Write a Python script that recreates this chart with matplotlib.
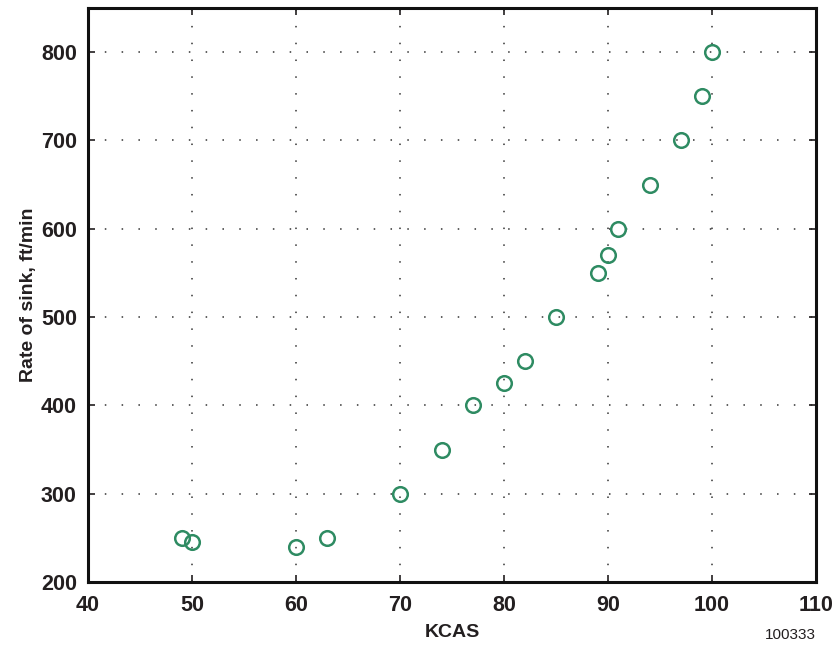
import numpy as np
import matplotlib.pyplot as plt

# airspeed (KCAS) vs rate of sink (ft/min)
kcas = [49, 50, 60, 63, 70, 74, 77, 80, 82, 85, 89, 90, 91, 94, 97, 99, 100]
sink = [250, 245, 240, 250, 300, 350, 400, 425, 450, 500, 550, 570, 600, 650, 700, 750, 800]
x_ticks = [40, 50, 60, 70, 80, 90, 100, 110]
y_ticks = [200, 300, 400, 500, 600, 700, 800]

plt.rcParams['font.family'] = ['Liberation Sans', 'DejaVu Sans']

fig = plt.figure(figsize=(8.39, 6.56), dpi=100)
ax = fig.add_axes([0.1049, 0.1128, 0.8677, 0.875])

ax.plot(kcas, sink, 'o', markersize=10.5, markerfacecolor='none',
        markeredgecolor='#2e8b62', markeredgewidth=1.8, zorder=3)

ax.set_xlim(40, 110)
ax.set_ylim(200, 850)
ax.set_xticks(x_ticks)
ax.set_yticks(y_ticks)
ax.tick_params(direction='in', length=5, width=1.2, top=True, right=True,
               labelsize=15.5, colors='#231f20')
ax.tick_params(axis='x', pad=9)
ax.tick_params(axis='y', pad=8)
for lbl in ax.get_xticklabels() + ax.get_yticklabels():
    lbl.set_fontweight('bold')

ax.grid(True, color='#333333', linestyle=(0, (1, 10)), linewidth=1.1)
for s in ax.spines.values():
    s.set_linewidth(2.2)
    s.set_color('#111111')

ax.set_xlabel('KCAS', fontsize=14, fontweight='bold', color='#231f20', labelpad=6)
ax.set_ylabel('Rate of sink, ft/min', fontsize=14, fontweight='bold', color='#231f20', labelpad=3)

fig.text(0.942, 0.021, '100333', fontsize=11, ha='center', va='bottom', color='#231f20')

fig.savefig('out.png', dpi=100)
